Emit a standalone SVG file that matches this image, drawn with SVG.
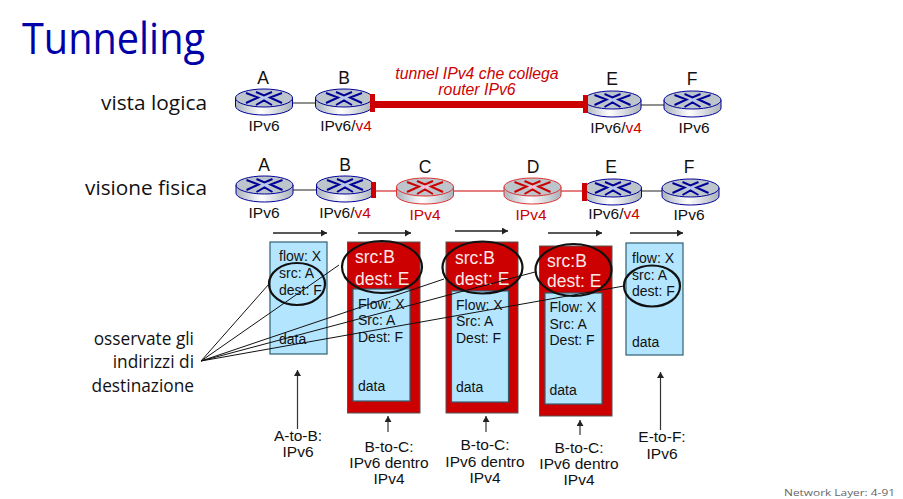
<svg xmlns="http://www.w3.org/2000/svg" width="903" height="499" viewBox="0 0 903 499">
<style>
text{font-family:"Liberation Sans",Arial,sans-serif;fill:#111}
.c{font-size:15.5px;text-anchor:middle}
.n{font-size:17.5px;text-anchor:middle}
.s{font-size:14px}
.w{font-size:17.5px;fill:#fde8e8}
.h{font-family:"Open Sans","Noto Sans",sans-serif;font-size:20px}
.hs{font-family:"Open Sans","Noto Sans",sans-serif;font-size:17.3px;text-anchor:end}
.pk{fill:#b3e5ff;stroke:#2f5f70;stroke-width:1.2}
.out{fill:#cc0000;stroke:#555;stroke-width:1}
.ring{fill:none;stroke:#111;stroke-width:2.2}
.ln{stroke:#111;stroke-width:1;fill:none}
.bl{stroke:#222;stroke-width:1.2}
.rl{stroke:#cc0000;stroke-width:1.2}
.ta{stroke:#222;stroke-width:1.500;fill:none;marker-end:url(#ah)}
.ua{stroke:#333;stroke-width:1.200;fill:none;marker-end:url(#ah)}
</style>
<defs>
<linearGradient id="g6" x1="0" x2="1" y1="0" y2="0"><stop offset="0" stop-color="#aab2bc"/><stop offset=".45" stop-color="#ffffff"/><stop offset="1" stop-color="#aab2bc"/></linearGradient>
<marker id="ah" markerUnits="userSpaceOnUse" markerWidth="7" markerHeight="7" refX="6" refY="3.5" orient="auto"><path d="M0 0L6 3.5L0 7z" fill="#222"/></marker>
<g id="rb">
<path d="M-28.5 0V8A28.5 9 0 0 0 28.5 8V0z" fill="url(#g6)" stroke="#000099"/>
<ellipse rx="28.5" ry="9" fill="#bcc4cc" stroke="#000099"/>
<path d="M-6 0L0-2.500L6 0L0 2.500z" fill="#b8c8ee"/>
<path d="M-18-5L-6-.5L-18 5M18-5L6-.5L18 5M-8-6L0-2.500L8-6M-8 7L0 2.500L8 7" transform="translate(0 0)" fill="none" stroke="#000099" stroke-width="2"/>
</g>
<g id="rr">
<path d="M-28.5 0V8A28.5 9 0 0 0 28.5 8V0z" fill="url(#g6)" stroke="#e03030"/>
<ellipse rx="28.5" ry="9" fill="#bcc4cc" stroke="#e03030"/>
<path d="M-6 0L0-2.500L6 0L0 2.500z" fill="#f8c0d8"/>
<path d="M-18-5L-6-.5L-18 5M18-5L6-.5L18 5M-8-6L0-2.500L8-6M-8 7L0 2.500L8 7" fill="none" stroke="#cc0000" stroke-width="2"/>
</g>
</defs>
<rect width="903" height="499" fill="#fff"/>
<text x="22" y="54" textLength="183" lengthAdjust="spacingAndGlyphs" style="font-family:'Open Sans','Noto Sans',sans-serif;font-size:44px;fill:#0000a8">Tunneling</text>
<text class="h" x="101" y="110" textLength="106" lengthAdjust="spacingAndGlyphs">vista logica</text>
<text class="h" x="85" y="195" textLength="122" lengthAdjust="spacingAndGlyphs">visione fisica</text>
<g id="note"><text class="hs" x="194" y="345">osservate gli</text>
<text class="hs" x="194" y="368">indirizzi di</text>
<text class="hs" x="194" y="392">destinazione</text></g>
<text x="784" y="496" style="font-size:9px;fill:#666;font-family:'Open Sans',sans-serif" textLength="111" lengthAdjust="spacingAndGlyphs">Network Layer: 4-91</text>

<g id="connectors">
<path class="bl" d="M292 103H316M641 105H665M293 190H317M641 191H663"/>
<rect x="372" y="101" width="212" height="7" fill="#cc0000"/>
<path class="rl" d="M374 191H397M453 191H505M561 191H583"/>
</g>
<g id="router-a1"><use href="#rb" x="264" y="98"/><text class="n" x="263" y="84">A</text><text class="c" x="264" y="131">IPv6</text></g>
<g id="router-b1"><use href="#rb" x="344" y="98"/><text class="n" x="344" y="84">B</text><text class="c" x="346" y="131">IPv6/<tspan style="fill:#cc0000">v4</tspan></text></g>
<g id="router-e1"><use href="#rb" x="612.500" y="100"/><text class="n" x="612" y="85">E</text><text class="c" x="616" y="133">IPv6/<tspan style="fill:#cc0000">v4</tspan></text></g>
<g id="router-f1"><use href="#rb" x="692.500" y="100"/><text class="n" x="692" y="85">F</text><text class="c" x="694" y="133">IPv6</text></g>
<g id="tunnel-label"><text x="477" y="79" text-anchor="middle" style="font-size:15.8px;font-style:italic;fill:#cc0000">tunnel IPv4 che collega</text><text x="477" y="95" text-anchor="middle" style="font-size:15.8px;font-style:italic;fill:#cc0000">router IPv6</text></g>

<g id="router-a2"><use href="#rb" x="264.500" y="185"/><text class="n" x="264" y="171">A</text><text class="c" x="264" y="218">IPv6</text></g>
<g id="router-b2"><use href="#rb" x="345" y="185"/><text class="n" x="345" y="171">B</text><text class="c" x="345" y="218">IPv6/<tspan style="fill:#cc0000">v4</tspan></text></g>
<g id="router-c"><use href="#rr" x="425" y="187"/><text class="n" x="425" y="173">C</text><text class="c" x="425" y="220" style="fill:#cc0000">IPv4</text></g>
<g id="router-d"><use href="#rr" x="532.500" y="187"/><text class="n" x="533" y="173">D</text><text class="c" x="531" y="220" style="fill:#cc0000">IPv4</text></g>
<g id="router-e2"><use href="#rb" x="613" y="188"/><text class="n" x="611" y="173">E</text><text class="c" x="614" y="219">IPv6/<tspan style="fill:#cc0000">v4</tspan></text></g>
<g id="router-f2"><use href="#rb" x="690.500" y="188"/><text class="n" x="689" y="173">F</text><text class="c" x="689" y="220">IPv6</text></g>
<g id="tunnel-ends" fill="#cc0000">
<rect x="370" y="94" width="5" height="18"/><rect x="583" y="95" width="5" height="18"/>
<rect x="371" y="182" width="5" height="16"/><rect x="582" y="183" width="5" height="18"/>
</g>

<g id="packet-1"><rect class="pk" x="270" y="242" width="57" height="112"/>
<text class="s" x="279" y="261">flow: X</text><text class="s" x="279" y="278">src: A</text><text class="s" x="279" y="295">dest: F</text><text class="s" x="279" y="344">data</text></g>
<g id="packet-2"><rect class="out" x="347.500" y="242" width="72.500" height="171"/><rect class="pk" x="353" y="289" width="57" height="112"/>
<text class="w" x="355" y="263">src:B</text><text class="w" x="355" y="285">dest: E</text>
<text class="s" x="358" y="309">Flow: X</text><text class="s" x="358" y="325">Src: A</text><text class="s" x="358" y="342">Dest: F</text><text class="s" x="358" y="391">data</text></g>
<g id="packet-3"><rect class="out" x="446" y="242" width="72" height="171"/><rect class="pk" x="451.500" y="291" width="57" height="111"/>
<text class="w" x="455" y="264">src:B</text><text class="w" x="455" y="285">dest: E</text>
<text class="s" x="456" y="310">Flow: X</text><text class="s" x="456" y="326">Src: A</text><text class="s" x="456" y="343">Dest: F</text><text class="s" x="456" y="392">data</text></g>
<g id="packet-4"><rect class="out" x="539.500" y="246" width="72.500" height="170"/><rect class="pk" x="545" y="293" width="57" height="111"/>
<text class="w" x="547" y="267">src:B</text><text class="w" x="547" y="287">dest: E</text>
<text class="s" x="549.500" y="312">Flow: X</text><text class="s" x="549.500" y="329">Src: A</text><text class="s" x="549.500" y="345">Dest: F</text><text class="s" x="549.500" y="395">data</text></g>
<g id="packet-5"><rect class="pk" x="626" y="243" width="57" height="112"/>
<text class="s" x="632" y="263">flow: X</text><text class="s" x="632" y="280">src: A</text><text class="s" x="632" y="296">dest: F</text><text class="s" x="632" y="347">data</text></g>

<g id="rings">
<ellipse class="ring" cx="297" cy="284" rx="28" ry="21"/>
<ellipse class="ring" cx="382" cy="267" rx="40" ry="26"/>
<ellipse class="ring" cx="482.500" cy="267.500" rx="40" ry="26"/>
<ellipse class="ring" cx="573.500" cy="270" rx="38" ry="26"/>
<ellipse class="ring" cx="652" cy="286" rx="28" ry="20.500"/>
</g>
<g id="pointers">
<path class="ln" d="M201 361L269 284M201 361L339 265M201 361L444 279M201 361L535 272M201 361L624 286"/>
<path class="ta" d="M273 233H327"/><path class="ta" d="M358 233H411"/><path class="ta" d="M455 231H508"/><path class="ta" d="M548 233H602"/><path class="ta" d="M630 233H683"/>
<path class="ua" d="M297.500 429V370"/><path class="ua" d="M388 432V416"/><path class="ua" d="M486 432V416"/><path class="ua" d="M580 435V420"/><path class="ua" d="M660.500 430V372"/>
</g>
<g id="hop-labels">
<text class="c" x="298" y="441">A-to-B:</text><text class="c" x="298" y="457">IPv6</text>
<text class="c" x="389" y="452">B-to-C:</text><text class="c" x="389" y="468">IPv6 dentro</text><text class="c" x="389" y="484">IPv4</text>
<text class="c" x="485" y="450">B-to-C:</text><text class="c" x="485" y="467">IPv6 dentro</text><text class="c" x="485" y="483">IPv4</text>
<text class="c" x="579" y="453">B-to-C:</text><text class="c" x="579" y="469">IPv6 dentro</text><text class="c" x="579" y="485">IPv4</text>
<text class="c" x="662" y="442">E-to-F:</text><text class="c" x="662" y="459">IPv6</text>
</g>
</svg>
